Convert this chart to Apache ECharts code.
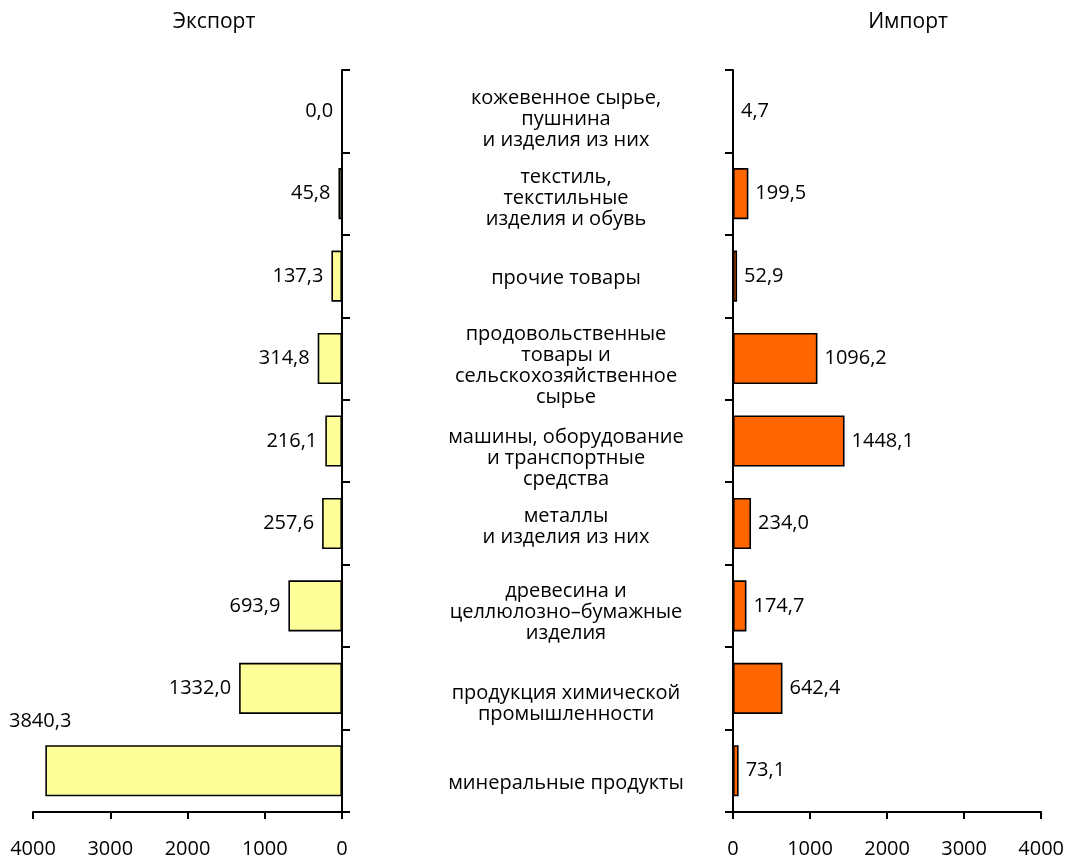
<!DOCTYPE html>
<html><head><meta charset="utf-8">
<script src="https://cdn.jsdelivr.net/npm/echarts@6/dist/echarts.min.js"></script>
<style>html,body{margin:0;padding:0;background:#fff}#c{width:1067px;height:862px}</style>
</head><body><div id="c"></div>
<script>
const categories = [
  'кожевенное сырье,\nпушнина\nи изделия из них',
  'текстиль,\nтекстильные\nизделия и обувь',
  'прочие товары',
  'продовольственные\nтовары и\nсельскохозяйственное\nсырье',
  'машины, оборудование\nи транспортные\nсредства',
  'металлы\nи изделия из них',
  'древесина и\nцеллюлозно–бумажные\nизделия',
  'продукция химической\nпромышленности',
  'минеральные продукты'
];
const exportValues = [0.0, 45.8, 137.3, 314.8, 216.1, 257.6, 693.9, 1332.0, 3840.3];
const importValues = [4.7, 199.5, 52.9, 1096.2, 1448.1, 234.0, 174.7, 642.4, 73.1];
const tickLabels = ['0', '1000', '2000', '3000', '4000'];
const titles = ['Экспорт', 'Импорт'];

const FONT = '"Open Sans", "Noto Sans", sans-serif';
const FS = 20;
const fmt = v => (typeof v === 'object' ? v.value : v).toFixed(1).replace('.', ',');
const lineStyle = {color: '#000', width: 2};
// downward nudge (px) of each centre caption, as placed in the original layout
const captionShift = [8, 5, 2, 7, 17, 3, 6, 15, 13];
const rich = {};
captionShift.forEach((s, i) => {
  rich['sp' + i] = {fontSize: 1, lineHeight: Math.max(1, s * 2), height: Math.max(1, s * 2)};
});

const chart = echarts.init(document.getElementById('c'));
chart.setOption({
  animation: false,
  textStyle: {fontFamily: FONT},
  title: [
    {text: titles[0], left: 214, top: 12, textAlign: 'center', padding: 0,
     textStyle: {fontFamily: FONT, fontSize: 21, fontWeight: 'normal', color: '#000'}},
    {text: titles[1], left: 908, top: 12, textAlign: 'center', padding: 0,
     textStyle: {fontFamily: FONT, fontSize: 21, fontWeight: 'normal', color: '#000'}}
  ],
  grid: [
    {left: 33, width: 309, top: 70, height: 742},
    {left: 733, width: 309, top: 70, height: 742}
  ],
  xAxis: [
    {gridIndex: 0, type: 'value', inverse: true, min: 0, max: 4000, interval: 1000,
     splitLine: {show: false}, axisLine: {show: true, lineStyle},
     axisTick: {show: true, length: 7, lineStyle},
     axisLabel: {color: '#000', fontSize: FS, margin: 27, fontFamily: FONT,
       formatter: (v) => tickLabels[Math.round(v / 1000)]}},
    {gridIndex: 1, type: 'value', min: 0, max: 4000, interval: 1000,
     splitLine: {show: false}, axisLine: {show: true, lineStyle},
     axisTick: {show: true, length: 7, lineStyle},
     axisLabel: {color: '#000', fontSize: FS, margin: 27, fontFamily: FONT,
       formatter: (v) => tickLabels[Math.round(v / 1000)]}}
  ],
  yAxis: [
    {gridIndex: 0, type: 'category', data: categories, inverse: true, position: 'right',
     axisLine: {show: true, lineStyle}, axisTick: {show: true, length: 8, lineStyle},
     axisLabel: {show: false}},
    {gridIndex: 1, type: 'category', inverse: true, position: 'left', data: categories,
     axisLine: {show: true, lineStyle}, axisTick: {show: true, length: 8, lineStyle},
     axisLabel: {show: true, align: 'center', margin: 167, color: '#000', fontSize: FS,
       lineHeight: 21, fontFamily: FONT, rich,
       formatter: (v, i) => '{sp' + i + '| }\n' + v}}
  ],
  series: [
    {type: 'bar', xAxisIndex: 0, yAxisIndex: 0, barWidth: '62%',
     data: exportValues.map((v, i) => i === exportValues.length - 1
       ? {value: v, label: {offset: [34, -49]}} : v),
     itemStyle: {color: '#FFFF99', borderColor: '#000', borderWidth: 1.6},
     label: {show: true, position: 'left', distance: 8, color: '#000', fontSize: FS,
       fontFamily: FONT, formatter: p => fmt(p.value)}},
    {type: 'bar', xAxisIndex: 1, yAxisIndex: 1, barWidth: '62%',
     data: importValues,
     itemStyle: {color: '#FF6600', borderColor: '#000', borderWidth: 1.6},
     label: {show: true, position: 'right', distance: 7, color: '#000', fontSize: FS,
       fontFamily: FONT, formatter: p => fmt(p.value)}}
  ]
});
</script>
</body></html>
